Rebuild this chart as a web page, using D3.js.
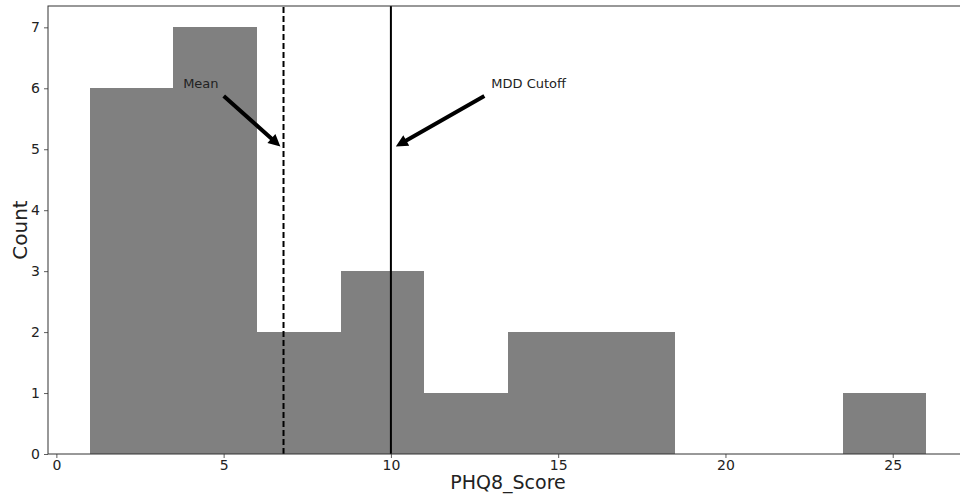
<!DOCTYPE html>
<html lang="en">
<head>
<meta charset="utf-8">
<script src="https://d3js.org/d3.v7.min.js"></script>
<style>
  body { margin: 0; background: #fff; }
  #plot { width: 960px; height: 494px; overflow: hidden; }
  text { font-family: "DejaVu Sans", sans-serif; fill: #222; }
</style>
</head>
<body>
<div id="plot"></div>
<script>
// histogram of PHQ8 scores
const binEdges = [1, 3.5, 6, 8.5, 11, 13.5, 16, 18.5, 21, 23.5, 26];
const counts = [6, 7, 2, 3, 1, 2, 2, 0, 0, 1];
const xTicks = [0, 5, 10, 15, 20, 25];
const yTicks = [0, 1, 2, 3, 4, 5, 6, 7];
const meanScore = 6.79;
const cutoffScore = 10;
const notes = [
  {label: "Mean", x: meanScore, y: 5, tx: meanScore - 3, ty: 6},
  {label: "MDD Cutoff", x: cutoffScore, y: 5, tx: 13, ty: 6}
];

function drawChart() {
  const width = 960, height = 494;
  const margin = {left: 48, top: 6, right: -8, bottom: 40};

  const svg = d3.select("#plot").append("svg")
      .attr("width", width)
      .attr("height", height);

  const x = d3.scaleLinear()
      .domain([-0.25, 27.25])
      .range([margin.left, width - margin.right]);
  const y = d3.scaleLinear()
      .domain([0, 7.35])
      .range([height - margin.bottom, margin.top]);

  // bars (crisp edges so neighbouring bins don't show a seam)
  const bins = counts.map((c, i) => ({x0: binEdges[i], x1: binEdges[i + 1], count: c}));
  svg.append("g")
      .attr("shape-rendering", "crispEdges")
    .selectAll("rect")
    .data(bins.filter(d => d.count > 0))
    .join("rect")
      .attr("x", d => Math.round(x(d.x0)))
      .attr("width", d => Math.round(x(d.x1)) - Math.round(x(d.x0)))
      .attr("y", d => Math.round(y(d.count)))
      .attr("height", d => Math.round(y(0)) - Math.round(y(d.count)))
      .attr("fill", "#808080");

  // vertical lines
  svg.append("line")
      .attr("x1", x(meanScore)).attr("x2", x(meanScore))
      .attr("y1", y(0)).attr("y2", y(7.35))
      .attr("stroke", "#000").attr("stroke-width", 2)
      .attr("stroke-dasharray", "6,3");
  svg.append("line")
      .attr("x1", x(cutoffScore)).attr("x2", x(cutoffScore))
      .attr("y1", y(0)).attr("y2", y(7.35))
      .attr("stroke", "#000").attr("stroke-width", 2);

  // axes
  const xAxis = d3.axisBottom(x).tickValues(xTicks).tickSize(4).tickPadding(2);
  const yAxis = d3.axisLeft(y).tickValues(yTicks).tickSize(4).tickPadding(4);

  const gx = svg.append("g")
      .attr("transform", `translate(0,${y(0)})`)
      .call(xAxis);
  const gy = svg.append("g")
      .attr("transform", `translate(${margin.left},0)`)
      .call(yAxis);
  [gx, gy].forEach(g => {
    g.select(".domain").remove();
    g.selectAll(".tick line").attr("stroke", "#333").attr("stroke-width", 0.8);
    g.selectAll(".tick text")
      .attr("font-family", "DejaVu Sans, sans-serif")
      .attr("font-size", 14)
      .attr("fill", "#222");
  });

  // frame
  svg.append("rect")
      .attr("x", x.range()[0])
      .attr("y", y.range()[1])
      .attr("width", x.range()[1] - x.range()[0])
      .attr("height", y.range()[0] - y.range()[1])
      .attr("fill", "none")
      .attr("stroke", "#333")
      .attr("stroke-width", 1);

  // axis labels
  svg.append("text")
      .attr("x", (x.range()[0] + x.range()[1]) / 2)
      .attr("y", 489)
      .attr("text-anchor", "middle")
      .attr("font-size", 19)
      .text("PHQ8_Score");
  svg.append("text")
      .attr("transform", `translate(27,${(y.range()[0] + y.range()[1]) / 2}) rotate(-90)`)
      .attr("text-anchor", "middle")
      .attr("font-size", 20)
      .text("Count");

  // annotations
  notes.forEach(n => {
    const t = svg.append("text")
        .attr("x", x(n.tx))
        .attr("y", y(n.ty))
        .attr("font-size", 13)
        .text(n.label);
    const bb = t.node().getBBox();
    const tipX = x(n.x), tipY = y(n.y);
    // start from the text box corner nearest the target
    let sx = tipX > bb.x + bb.width ? bb.x + bb.width + 2 : bb.x - 2;
    let sy = bb.y + bb.height + 2;
    const dx = tipX - sx, dy = tipY - sy;
    const len = Math.hypot(dx, dy);
    const shrink = 0.05 * len;
    const ux = dx / len, uy = dy / len;
    const ax = sx + ux * shrink, ay = sy + uy * shrink;
    const bx = tipX - ux * shrink, by = tipY - uy * shrink;
    const headLen = 12, headW = 6, shaftW = 2;
    const px = -uy, py = ux;
    const hx = bx - ux * headLen, hy = by - uy * headLen;
    const pts = [
      [ax + px * shaftW, ay + py * shaftW],
      [hx + px * shaftW, hy + py * shaftW],
      [hx + px * headW, hy + py * headW],
      [bx, by],
      [hx - px * headW, hy - py * headW],
      [hx - px * shaftW, hy - py * shaftW],
      [ax - px * shaftW, ay - py * shaftW]
    ];
    svg.append("polygon")
        .attr("points", pts.map(p => p.join(",")).join(" "))
        .attr("fill", "#000");
  });
}

window.onload = drawChart;
</script>
</body>
</html>
